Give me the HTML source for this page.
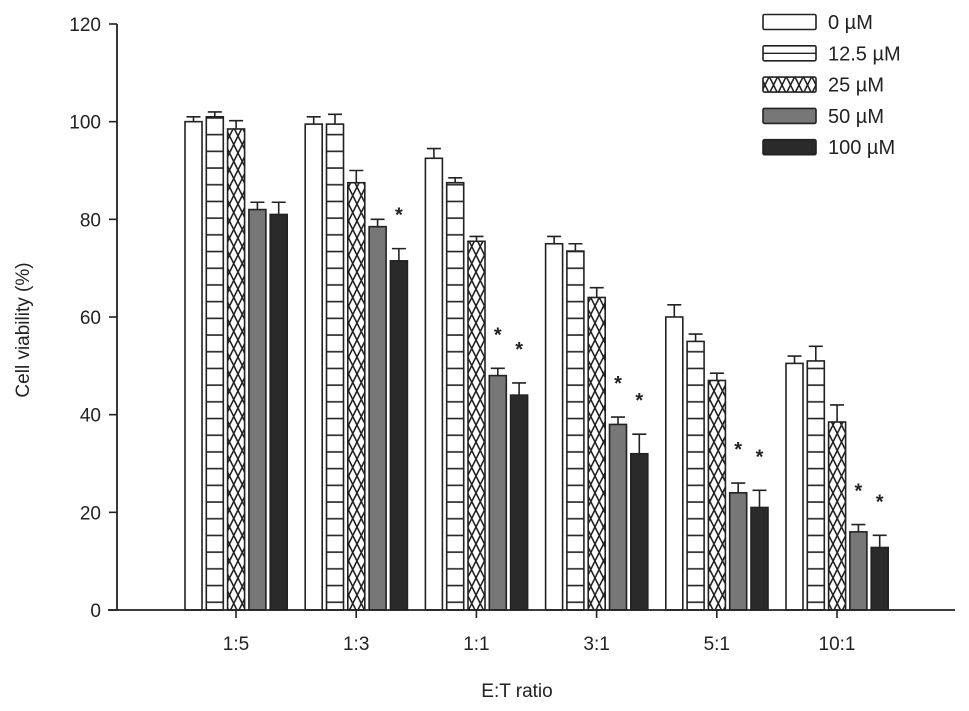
<!DOCTYPE html>
<html><head><meta charset="utf-8"><style>
body{margin:0;background:#fff}
svg{display:block;font-family:"Liberation Sans",Arial,sans-serif}
</style></head><body>
<svg id="chart" width="969" height="711" viewBox="0 0 969 711">
<defs>
<pattern id="p-h" width="17" height="16.7" patternUnits="userSpaceOnUse"><line x1="0" y1="1" x2="17" y2="1" stroke="#222" stroke-width="1.6"/></pattern>
<pattern id="p-x" width="8.5" height="17" patternUnits="userSpaceOnUse"><path d="M0,0 L8.5,17 M8.5,0 L0,17" stroke="#222" stroke-width="1.6"/></pattern>
</defs>
<g id="plot"></g>
</svg>
<script>
const categories=["1:5","1:3","1:1","3:1","5:1","10:1"];
const seriesNames=["0 µM","12.5 µM","25 µM","50 µM","100 µM"];
const s0=[100,99.5,92.5,75,60,50.5];
const s1=[101,99.5,87.5,73.5,55,51];
const s2=[98.5,87.5,75.5,64,47,38.5];
const s3=[82,78.5,48,38,24,16];
const s4=[81,71.5,44,32,21,12.8];
const e0=[1,1.5,2,1.5,2.5,1.5];
const e1=[1,2,1,1.5,1.5,3];
const e2=[1.7,2.5,1,2,1.5,3.5];
const e3=[1.5,1.5,1.5,1.5,2,1.5];
const e4=[2.5,2.5,2.5,4,3.5,2.5];
const sig3=[0,0,1,1,1,1];
const sig4=[0,1,1,1,1,1];
const yTicks=[0,20,40,60,80,100,120];

const NS="http://www.w3.org/2000/svg";
const g=document.getElementById('plot');
const y0=610,yScale=(610-24)/120;
const y=v=>y0-v*yScale;
const groupX=i=>236+i*120.2;
const barW=17,pitch=21.3;
const barX=(i,s)=>groupX(i)-51+s*pitch;
const fills=["#fff","url(#p-h)","url(#p-x)","#777","#2a2a2a"];
const series=[s0,s1,s2,s3,s4],errs=[e0,e1,e2,e3,e4],sigs=[null,null,null,sig3,sig4];
function mk(tag,attrs){const el=document.createElementNS(NS,tag);for(const k in attrs)el.setAttribute(k,attrs[k]);g.appendChild(el);return el;}

categories.forEach((c,i)=>{
  series.forEach((s,k)=>{
    const v=s[i],e=errs[k][i],x=barX(i,k),cx=x+barW/2;
    if(k===1||k===2){const bg=mk('rect',{x:x,y:y(v),width:barW,height:y0-y(v),fill:'#fff'});
      
      }
    const r=mk('rect',{x:x,y:y(v),width:barW,height:y0-y(v),fill:fills[k],stroke:'#222','stroke-width':1.6});
    
    
    const l=mk('path',{d:`M${cx},${y(v)} V${y(v+e)} M${cx-7},${y(v+e)} H${cx+7}`,stroke:'#222','stroke-width':1.6,fill:'none'});
    
    
    if(sigs[k]&&sigs[k][i]){
      const t=mk('text',{x:cx,y:y(v+e)-27,'font-size':20,'font-weight':'bold','text-anchor':'middle',fill:'#222'});
      t.textContent='*';
      
      
    }
  });
  const tk=mk('line',{x1:groupX(i),y1:y0,x2:groupX(i),y2:y0+8,stroke:'#222','stroke-width':1.6});
  
  
  const tl=mk('text',{x:groupX(i),y:650,'font-size':19,'text-anchor':'middle',fill:'#222'});
  tl.textContent=c;
  
  
});
const ax=mk('path',{d:`M117,24 V${y0} M108,${y0} H955`,stroke:'#222','stroke-width':1.8,fill:'none'});


yTicks.forEach(v=>{
  const t=mk('line',{x1:109,y1:y(v),x2:117,y2:y(v),stroke:'#222','stroke-width':1.6});
  
  
  const tl=mk('text',{x:101,y:y(v)+7,'font-size':19,'text-anchor':'end',fill:'#222'});
  tl.textContent=v;
  
  
});
const xt=mk('text',{x:517,y:697,'font-size':19,'text-anchor':'middle',fill:'#222'});
xt.textContent='E:T ratio';


const yt=mk('text',{x:0,y:0,'font-size':19,'text-anchor':'middle',fill:'#222',transform:'translate(29,330) rotate(-90)'});
yt.textContent='Cell viability (%)';


seriesNames.forEach((n,k)=>{
  const ly=22+k*31.3;
  if(k===1||k===2){const bg=mk('rect',{x:763,y:ly-7.5,width:53,height:15,fill:'#fff'});
    
    }
  const r=mk('rect',{x:763,y:ly-7.5,width:53,height:15,fill:k===1?'#fff':fills[k],stroke:'#222','stroke-width':1.6,rx:1.5});
  
  
  if(k===1){const m=mk('line',{x1:763,y1:ly,x2:816,y2:ly,stroke:'#222','stroke-width':1.4});
    
    }
  const t=mk('text',{x:828,y:ly+7,'font-size':20,fill:'#222'});
  t.textContent=n;
  
  
});
</script>
</body></html>
